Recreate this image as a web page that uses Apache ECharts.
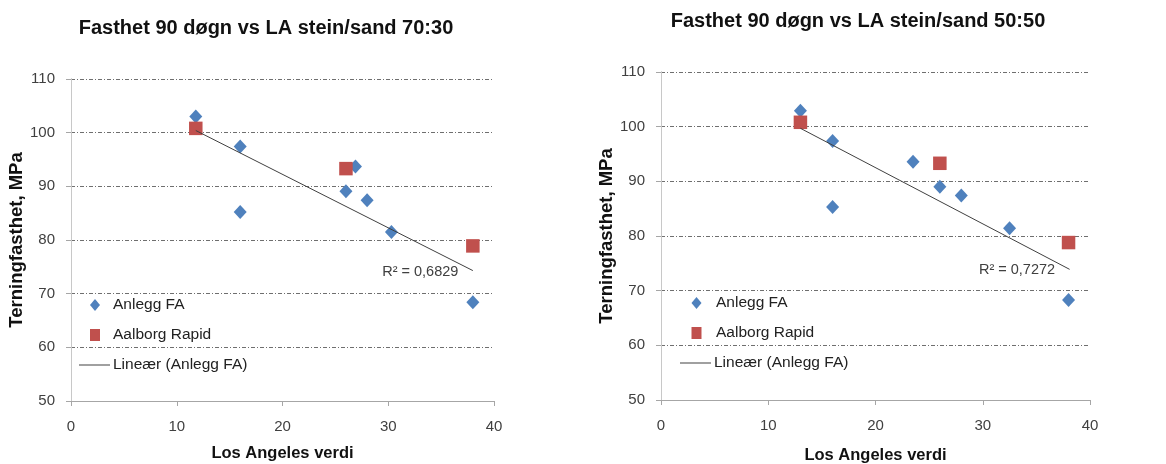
<!DOCTYPE html>
<html>
<head>
<meta charset="utf-8">
<script src="https://cdn.jsdelivr.net/npm/echarts@6/dist/echarts.min.js"></script>
<style>
  html, body { margin: 0; padding: 0; background: #ffffff; }
  #chart { width: 1166px; height: 464px; }
</style>
</head>
<body>
<div id="chart"></div>
<script>
// Stone/sand 70:30 – Los Angeles value vs 90-day cube strength
const la7030Anlegg   = [11.8, 16, 16, 26.9, 26, 28, 30.3, 38];
const fast7030Anlegg = [103, 97.4, 85.2, 93.7, 89.1, 87.4, 81.5, 68.4];
const la7030Aalborg   = [11.8, 26, 38];
const fast7030Aalborg = [100.8, 93.3, 78.9];
const trend7030X = [11.8, 38];
const trend7030Y = [100.4, 74.3];
const r2Text7030 = 'R² = 0,6829';

// Stone/sand 50:50
const la5050Anlegg   = [13, 16, 16, 23.5, 26, 28, 32.5, 38];
const fast5050Anlegg = [102.9, 97.4, 85.3, 93.6, 89.0, 87.4, 81.4, 68.3];
const la5050Aalborg   = [13, 26, 38];
const fast5050Aalborg = [100.8, 93.3, 78.8];
const trend5050X = [13, 38.1];
const trend5050Y = [99.7, 73.9];
const r2Text5050 = 'R² = 0,7272';

// Axes
const xMin = 0, xMax = 40, xStep = 10;
const yMin = 50, yMax = 110, yStep = 10;

const titles = ['Fasthet 90 døgn vs LA stein/sand 70:30', 'Fasthet 90 døgn vs LA stein/sand 50:50'];
const xName = 'Los Angeles verdi';
const yName = 'Terningfasthet, MPa';
const seriesNames = ['Anlegg FA', 'Aalborg Rapid', 'Lineær (Anlegg FA)'];

const FONT = '"Liberation Sans", Arial, sans-serif';
const BLUE = '#4F81BD';
const RED = '#C0504D';
const TREND = '#404040';

const zip = (xs, ys) => xs.map((x, i) => [x, ys[i]]);

function xAxisFor(gridIndex, gap) {
  return {
    type: 'value', gridIndex, min: xMin, max: xMax, interval: xStep,
    name: xName, nameLocation: 'middle', nameGap: gap,
    nameTextStyle: { fontFamily: FONT, fontSize: 16.5, fontWeight: 'bold', color: '#111' },
    axisLine: { show: true, onZero: false, lineStyle: { color: '#A6A6A6', width: 1 } },
    axisTick: { show: true, length: 5, inside: false, lineStyle: { color: '#A6A6A6' } },
    axisLabel: { fontFamily: FONT, fontSize: 15, color: '#404040', margin: 18 },
    splitLine: { show: false }
  };
}

function yAxisFor(gridIndex, gap) {
  return {
    type: 'value', gridIndex, min: yMin, max: yMax, interval: yStep,
    name: yName, nameLocation: 'middle', nameGap: gap, nameRotate: 90,
    nameTextStyle: { fontFamily: FONT, fontSize: 18.5, fontWeight: 'bold', color: '#111' },
    axisLine: { show: true, lineStyle: { color: '#A6A6A6', width: 1 } },
    axisTick: { show: true, length: 5, inside: false, lineStyle: { color: '#A6A6A6' } },
    axisLabel: { fontFamily: FONT, fontSize: 15, color: '#404040', margin: 16 },
    splitLine: {
      show: true, showMinLine: false,
      lineStyle: { color: '#6F6F6F', width: 1, type: [4, 2, 1, 2] }
    }
  };
}

// right-hand border of the plot area
function borderAxisFor(gridIndex) {
  return {
    type: 'value', gridIndex, position: 'right', min: yMin, max: yMax, interval: yStep,
    axisLine: { show: true, lineStyle: { color: '#C8C8C8', width: 1 } },
    axisTick: { show: false }, axisLabel: { show: false }, splitLine: { show: false }
  };
}

function panelSeries(idx, laA, fA, laB, fB, tX, tY, r2) {
  const xi = idx * 2, yi = idx * 2;
  const trendData = zip(tX, tY).map((p, i, arr) => (i === arr.length - 1 ? {
    value: p,
    label: {
      show: true, position: 'left', distance: 14, offset: [0, 1],
      formatter: r2, fontFamily: FONT, fontSize: 14.5, color: '#404040'
    }
  } : { value: p }));
  return [
    {
      name: seriesNames[0], type: 'scatter', xAxisIndex: xi, yAxisIndex: yi,
      symbol: 'diamond', symbolSize: [13, 14], itemStyle: { color: BLUE, opacity: 1 },
      data: zip(laA, fA), z: 3
    },
    {
      name: seriesNames[1], type: 'scatter', xAxisIndex: xi, yAxisIndex: yi,
      symbol: 'rect', symbolSize: 13.5, itemStyle: { color: RED, opacity: 1 },
      data: zip(laB, fB), z: 4
    },
    {
      name: seriesNames[2], type: 'line', xAxisIndex: xi, yAxisIndex: yi,
      symbol: 'circle', symbolSize: 1, showSymbol: true, silent: true,
      lineStyle: { color: TREND, width: 1 }, itemStyle: { color: 'rgba(0,0,0,0)' },
      data: trendData, z: 5
    }
  ];
}

const legendText = { fontFamily: FONT, fontSize: 15.5, color: '#222' };

// marker legend (diamond, square) and the trendline legend below it
function legendsFor(markerLeft, lineLeft, top, textPad) {
  return [
    {
      orient: 'vertical', left: markerLeft, top, padding: 0,
      itemWidth: 10, itemHeight: 12, itemGap: 14,
      data: [
        { name: seriesNames[0], icon: 'diamond', itemStyle: { color: BLUE } },
        { name: seriesNames[1], icon: 'rect', itemStyle: { color: RED } }
      ],
      textStyle: { ...legendText, padding: [0, 0, 0, textPad] },
      selectedMode: false
    },
    {
      orient: 'vertical', left: lineLeft, top: top + 60, padding: 0,
      itemWidth: 31, itemHeight: 1,
      data: [{ name: seriesNames[2], icon: 'rect', itemStyle: { color: TREND } }],
      textStyle: { ...legendText, padding: [0, 0, 0, -2] },
      selectedMode: false
    }
  ];
}

const chart = echarts.init(document.getElementById('chart'), null, { renderer: 'canvas' });

chart.setOption({
  backgroundColor: '#ffffff',
  animation: false,
  title: [
    { text: titles[0], left: 261, top: 13, textAlign: 'center',
      textStyle: { fontFamily: FONT, fontSize: 20, fontWeight: 'bold', color: '#111' } },
    { text: titles[1], left: 853, top: 6, textAlign: 'center',
      textStyle: { fontFamily: FONT, fontSize: 20, fontWeight: 'bold', color: '#111' } }
  ],
  grid: [
    { left: 71, top: 79, width: 423, height: 322, outerBoundsMode: 'none', containLabel: false },
    { left: 661, top: 72, width: 429, height: 328, outerBoundsMode: 'none', containLabel: false }
  ],
  xAxis: [xAxisFor(0, 44), { ...xAxisFor(0, 44), show: false }, xAxisFor(1, 47), { ...xAxisFor(1, 47), show: false }],
  yAxis: [yAxisFor(0, 38), borderAxisFor(0), yAxisFor(1, 38), borderAxisFor(1)],
  legend: [...legendsFor(90, 79, 297, 8), ...legendsFor(691.5, 680, 295, 9.5)],
  series: [
    ...panelSeries(0, la7030Anlegg, fast7030Anlegg, la7030Aalborg, fast7030Aalborg, trend7030X, trend7030Y, r2Text7030),
    ...panelSeries(1, la5050Anlegg, fast5050Anlegg, la5050Aalborg, fast5050Aalborg, trend5050X, trend5050Y, r2Text5050)
  ]
});
</script>
</body>
</html>
